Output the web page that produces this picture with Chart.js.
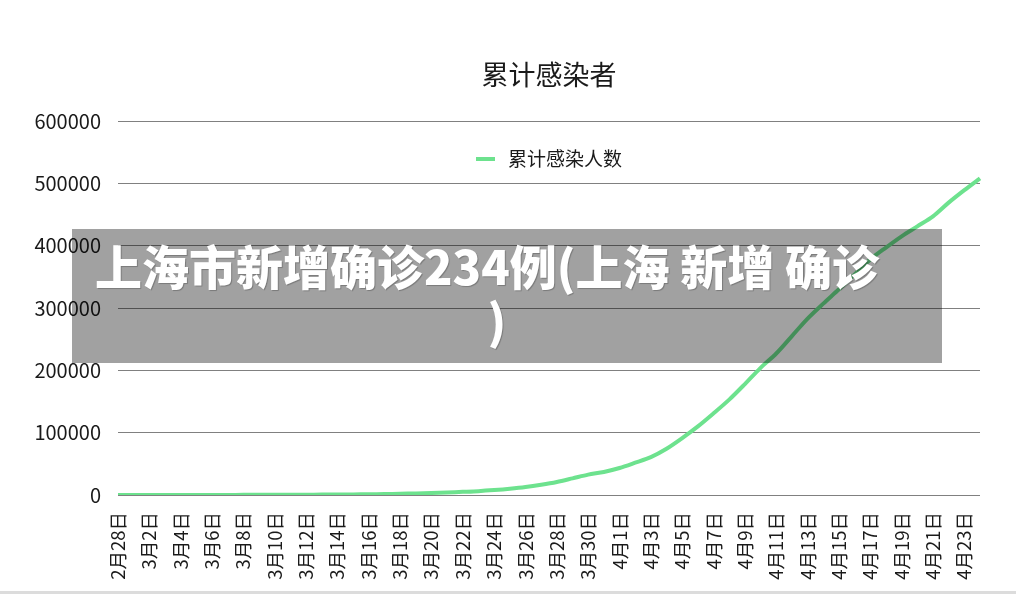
<!DOCTYPE html>
<html lang="zh">
<head>
<meta charset="utf-8">
<title>累计感染者</title>
<script src="https://cdn.jsdelivr.net/npm/chart.js@4.4.1/dist/chart.umd.min.js"></script>
<style>
  html, body { margin: 0; padding: 0; background: #fff; }
  #wrap { position: relative; width: 1016px; height: 594px; overflow: hidden; }
  #grafico { position: absolute; left: 0; top: 0; }
  /* franja gris del banner superpuesto */
  #banner {
    position: absolute; left: 72px; top: 229px; width: 870px; height: 134px;
    background: rgba(0, 0, 0, 0.37);
  }
  #bannerTexto {
    position: absolute; left: 40px; top: 238px; width: 894px;
    text-align: center; color: #fff;
    font-family: "Noto Sans CJK SC", sans-serif; font-weight: 900;
    font-size: 47px; line-height: 54px;
    text-shadow: 1px 1px 1px rgba(0, 0, 0, 0.25);
  }
  #bannerTexto span { padding-left: 20px; }
  #pie { position: absolute; left: 0; bottom: 0; width: 1016px; height: 3px; background: #dcdcdc; }
</style>
</head>
<body>
<div id="wrap">
  <canvas id="grafico" width="1016" height="594"></canvas>
  <div id="banner"></div>
  <div id="bannerTexto">上海市新增确诊234例(上海 新增 确诊<br><span>)</span></div>
  <div id="pie"></div>
</div>
<script>
// Datos
const tituloGrafico = '累计感染者';
const nombreSerie = '累计感染人数';

const fechas = [
    '2月28日',
    '3月1日', '3月2日', '3月3日', '3月4日', '3月5日', '3月6日', '3月7日', '3月8日', '3月9日', '3月10日',
    '3月11日', '3月12日', '3月13日', '3月14日', '3月15日', '3月16日', '3月17日', '3月18日', '3月19日', '3月20日',
    '3月21日', '3月22日', '3月23日', '3月24日', '3月25日', '3月26日', '3月27日', '3月28日', '3月29日', '3月30日', '3月31日',
    '4月1日', '4月2日', '4月3日', '4月4日', '4月5日', '4月6日', '4月7日', '4月8日', '4月9日', '4月10日',
    '4月11日', '4月12日', '4月13日', '4月14日', '4月15日', '4月16日', '4月17日', '4月18日', '4月19日', '4月20日',
    '4月21日', '4月22日', '4月23日', '4月24日'
];

const acumulados = [
    0,
    2, 10, 20, 40, 70, 120, 170, 230, 300, 380,
    480, 550, 620, 790, 1000, 1200, 1500, 2100, 2400, 3200,
    4100, 5100, 6200, 7900, 10000, 12700, 16400, 20900, 26700, 32700, 37000,
    43300, 51800, 60800, 74200, 91300, 110000, 131000, 153000, 178000, 204000,
    227000, 255000, 283000, 307000, 330000, 354000, 378000, 397000, 415000, 431000,
    447000, 469000, 489000, 508000
];

const ejeYMin = 0;
const ejeYMax = 600000;
const ejeYPaso = 100000;

const verde = '#6de28e';
const fuente = '"Noto Sans CJK SC", "Noto Sans", sans-serif';

// Título y leyenda centrados sobre el área del gráfico (como en Excel)
const cabecera = {
    id: 'cabecera',
    afterDraw(chart) {
        const ctx = chart.ctx;
        const area = chart.chartArea;
        const cx = (area.left + area.right) / 2;
        ctx.save();
        ctx.fillStyle = '#1a1a1a';
        ctx.textBaseline = 'middle';
        ctx.textAlign = 'center';
        ctx.font = '27px ' + fuente;
        ctx.fillText(tituloGrafico, cx, 75);

        ctx.font = '19px ' + fuente;
        const anchoTexto = ctx.measureText(nombreSerie).width;
        const total = 19 + 13 + anchoTexto;
        const x0 = cx - total / 2;
        ctx.strokeStyle = verde;
        ctx.lineWidth = 4;
        ctx.beginPath();
        ctx.moveTo(x0, 159);
        ctx.lineTo(x0 + 19, 159);
        ctx.stroke();
        ctx.textAlign = 'left';
        ctx.fillText(nombreSerie, x0 + 32, 159);
        ctx.restore();
    }
};

new Chart(document.getElementById('grafico'), {
    type: 'line',
    data: {
        labels: fechas,
        datasets: [{
            label: nombreSerie,
            data: acumulados,
            borderColor: verde,
            backgroundColor: verde,
            borderWidth: 4,
            pointRadius: 0,
            tension: 0.3,
            fill: false
        }]
    },
    options: {
        responsive: false,
        animation: false,
        layout: { padding: { left: 0, right: 36, top: 121, bottom: 0 } },
        plugins: {
            legend: { display: false },
            title: { display: false },
            tooltip: { enabled: false }
        },
        scales: {
            x: {
                grid: { display: false },
                border: { display: false },
                ticks: {
                    autoSkip: false,
                    minRotation: 90,
                    maxRotation: 90,
                    padding: 9,
                    color: '#1a1a1a',
                    font: { family: fuente, size: 18.5 },
                    callback: function (valor, i) {
                        return i % 2 === 0 ? fechas[i] : '';
                    }
                },
                afterFit: function (escala) { escala.height = 99; }
            },
            y: {
                min: ejeYMin,
                max: ejeYMax,
                grid: { color: '#808080', lineWidth: 1, drawTicks: false },
                border: { display: false },
                ticks: {
                    stepSize: ejeYPaso,
                    padding: 17,
                    color: '#1a1a1a',
                    font: { family: fuente, size: 20 },
                    callback: function (valor) { return String(valor); }
                },
                afterFit: function (escala) { escala.width = 118; }
            }
        }
    },
    plugins: [cabecera]
});
</script>
</body>
</html>
